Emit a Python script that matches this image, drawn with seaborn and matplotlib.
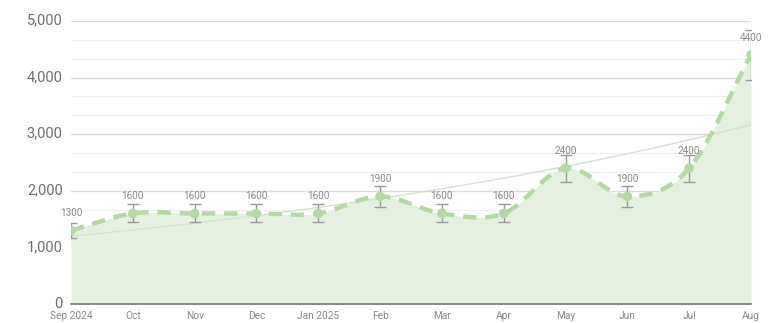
import numpy as np
import pandas as pd
import matplotlib
matplotlib.use("Agg")
import matplotlib.pyplot as plt
import matplotlib.transforms as mtransforms
import seaborn as sns
from matplotlib.ticker import MultipleLocator, FuncFormatter

months = ["Sep 2024", "Oct", "Nov", "Dec", "Jan 2025", "Feb", "Mar", "Apr",
          "May", "Jun", "Jul", "Aug"]
values = [1300, 1600, 1600, 1600, 1600, 1900, 1600, 1600, 2400, 1900, 2400, 4400]
errors = [130, 160, 160, 160, 160, 190, 160, 160, 240, 190, 240, 440]

sns.set_theme(style="white")
plt.rcParams["font.family"] = ["Roboto", "DejaVu Sans"]

LINE = "#b6d7a8"
FILL = "#e6f0e1"
TREND = "#d3e4ca"
GREY = "#9a9a9a"

x = np.arange(len(values), dtype=float)
y = np.array(values, dtype=float)

# Catmull-Rom smoothing for curve rendering
def catmull(xp, yp, n=40):
    px = np.concatenate([[2 * xp[0] - xp[1]], xp, [2 * xp[-1] - xp[-2]]])
    py = np.concatenate([[2 * yp[0] - yp[1]], yp, [2 * yp[-1] - yp[-2]]])
    xs, ys = [], []
    for i in range(1, len(px) - 2):
        t = np.linspace(0, 1, n, endpoint=False)
        for arr, out in ((px, xs), (py, ys)):
            p0, p1, p2, p3 = arr[i - 1], arr[i], arr[i + 1], arr[i + 2]
            out.append(0.5 * ((2 * p1) + (-p0 + p2) * t
                              + (2 * p0 - 5 * p1 + 4 * p2 - p3) * t ** 2
                              + (-p0 + 3 * p1 - 3 * p2 + p3) * t ** 3))
    xs.append([xp[-1]]); ys.append([yp[-1]])
    return np.concatenate(xs), np.concatenate(ys)

sx, sy = catmull(x, y)
curve = pd.DataFrame({"x": sx, "y": sy})

# exponential trend line
b, a = np.polyfit(x, np.log(y), 1, w=np.sqrt(y))
tx = np.linspace(0, len(values) - 1, 200)
trend = pd.DataFrame({"x": tx, "y": np.exp(a + b * tx)})

fig = plt.figure(figsize=(7.75, 3.23), dpi=100)
ax = fig.add_axes([71 / 775, 1 - 304 / 323, 680 / 775, 283 / 323])

ax.fill_between(sx, 0, sy, color=FILL, zorder=1, linewidth=0)
sns.lineplot(data=trend, x="x", y="y", ax=ax, color=TREND, linewidth=1.0, zorder=2)
sns.lineplot(data=curve, x="x", y="y", ax=ax, color=LINE, linewidth=3.2,
             dashes=False, zorder=3, sort=False)
ax.lines[-1].set_dashes([3.0, 2.0])
ax.errorbar(x, y, yerr=errors, fmt="none", ecolor=GREY, elinewidth=1.0,
            capsize=4, capthick=1.0, zorder=4)
sns.scatterplot(x=x, y=y, ax=ax, color=LINE, s=48, edgecolor="none", zorder=5)

for xi, yi in zip(x, values):
    ax.annotate(f"{yi}", (xi, yi), xytext=(0, 12.5), textcoords="offset points",
                ha="center", va="center", fontsize=7.2, color="#8a8a8a", zorder=6)

ax.set_xlim(0, len(values) - 1)
ax.set_ylim(0, 5000)
ax.set_xticks(x)
ax.set_xticklabels(months, fontsize=7.3, color="#8a8a8a")
ax.yaxis.set_major_locator(MultipleLocator(1000))
ax.yaxis.set_minor_locator(MultipleLocator(1000 / 3))
ax.yaxis.set_major_formatter(FuncFormatter(lambda v, p: f"{int(v):,}"))
ax.tick_params(axis="y", labelsize=10.5, labelcolor="#6f6f6f", length=0, pad=6)
ax.tick_params(axis="x", length=0, pad=5)
ax.tick_params(which="minor", length=0)
shift = mtransforms.ScaledTranslation(0, 2 / 100, fig.dpi_scale_trans)
for lab in ax.get_yticklabels():
    lab.set_transform(lab.get_transform() + shift)
ax.grid(axis="y", which="major", color="#dcdcdc", linewidth=1.0, zorder=0)
ax.grid(axis="y", which="minor", color="#efefef", linewidth=0.8, zorder=0)
ax.grid(axis="x", visible=False)
ax.set_axisbelow(True)
for s in ["top", "right", "left"]:
    ax.spines[s].set_visible(False)
ax.spines["bottom"].set_color("#777777")
ax.spines["bottom"].set_linewidth(1.2)
ax.set_xlabel("")
ax.set_ylabel("")
ax.patch.set_alpha(0)

fig.savefig("out.png", dpi=100)
